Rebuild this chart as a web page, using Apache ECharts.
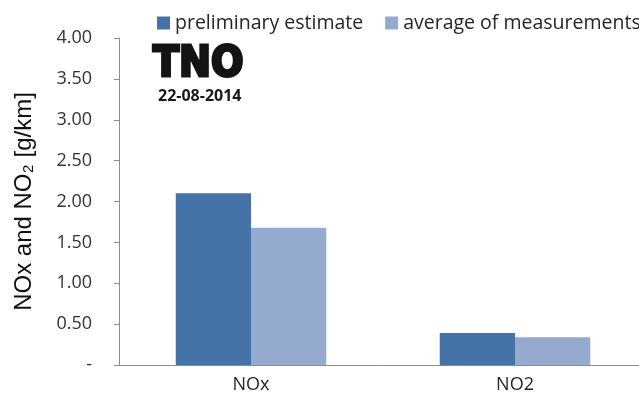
<!DOCTYPE html>
<html><head><meta charset="utf-8">
<script src="https://cdn.jsdelivr.net/npm/echarts@6/dist/echarts.min.js"></script>
<style>html,body{margin:0;padding:0;background:#fff}#c{width:639px;height:403px}</style>
</head><body><div id="c"></div>
<script>
const categories = ['NOx', 'NO2'];
const seriesNames = ['preliminary estimate', 'average of measurements'];
const preliminary = [2.10, 0.39];
const measured = [1.68, 0.34];
const yTicks = [0, 0.5, 1, 1.5, 2, 2.5, 3, 3.5, 4];

const chart = echarts.init(document.getElementById('c'));
const font = 'Open Sans';
chart.setOption({
  animation: false,
  textStyle: { fontFamily: font },
  grid: { left: 119, width: 528, top: 38, height: 327, containLabel: false, outerBoundsMode: 'none' },
  legend: {
    top: 13, left: 157, width: 560, padding: 0, itemWidth: 13, itemHeight: 13, itemGap: 22, icon: 'rect',
    textStyle: { fontSize: 19.5, color: '#262626', fontFamily: font },
    data: seriesNames
  },
  xAxis: {
    type: 'category', data: categories,
    axisLine: { lineStyle: { color: '#8c8c8c', width: 1 } },
    axisTick: { length: 5, lineStyle: { color: '#8c8c8c' } },
    axisLabel: { fontSize: 18, color: '#262626', margin: 11 }
  },
  yAxis: {
    type: 'value', min: 0, max: 4, interval: 0.5,
    name: 'NOx and NO\u2082 [g/km]', nameLocation: 'middle', nameGap: 83,
    nameTextStyle: { fontSize: 24, color: '#111', fontFamily: 'Liberation Sans' },
    splitLine: { show: false },
    axisLine: { show: true, lineStyle: { color: '#8c8c8c' } },
    axisTick: { show: true, length: 5, lineStyle: { color: '#8c8c8c' } },
    axisLabel: { fontSize: 18, color: '#333', margin: 27,
      formatter: v => v === 0 ? '-' : v.toFixed(2) }
  },
  series: [
    { name: seriesNames[0], type: 'bar', data: preliminary, barGap: '0%', barCategoryGap: '43%',
      itemStyle: { color: '#4572A7' } },
    { name: seriesNames[1], type: 'bar', data: measured, barGap: '0%', barCategoryGap: '43%',
      itemStyle: { color: '#94AACF' } }
  ],
  graphic: [
    { type: 'text', x: 153, y: 44, scaleX: 0.91, z: 10,
      style: { text: 'TNO', font: 'bold 42px "DejaVu Sans"', fill: '#141414', stroke: '#141414', lineWidth: 3 } },
    { type: 'text', x: 158, y: 88, z: 10,
      style: { text: '22-08-2014', font: 'bold 16px "Open Sans"', fill: '#1a1a1a' } }
  ]
});
</script></body></html>
